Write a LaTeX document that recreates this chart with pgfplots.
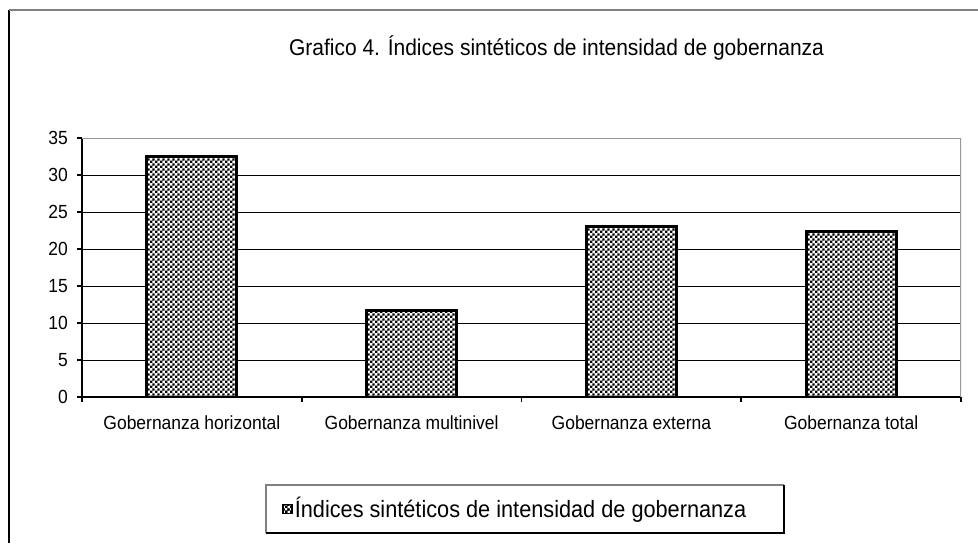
\documentclass[border=0pt]{standalone}
\usepackage{fontspec}
\setmainfont{Liberation Sans}[FakeStretch=0.92]
\usepackage{pgfplots}
\pgfplotsset{compat=1.18}
\usetikzlibrary{patterns.meta}
\pgfdeclarepattern{
  name=finechecker,
  type=uncolored,
  bottom left={\pgfpoint{0pt}{0pt}},
  top right={\pgfpoint{2.6pt}{2.6pt}},
  tile size={\pgfpoint{2.6pt}{2.6pt}},
  code={
    \pgfpathrectangle{\pgfpoint{0pt}{0pt}}{\pgfpoint{1.3pt}{1.3pt}}
    \pgfpathrectangle{\pgfpoint{1.3pt}{1.3pt}}{\pgfpoint{1.3pt}{1.3pt}}
    \pgfusepath{fill}
  }
}
\begin{document}
\begin{tikzpicture}
\useasboundingbox (0,0) rectangle (489pt,271.5pt);
\fill[white] (0,0) rectangle (489pt,271.5pt);
\draw[black, line width=1pt] (4.5pt,0) -- (4.5pt,266.5pt);
\draw[gray, line width=1pt] (4.5pt,266.5pt) -- (489pt,266.5pt);
\node[font=\fontsize{11.4}{13}\selectfont] at (278.25pt,247.5pt) {Grafico 4. Índices sintéticos de intensidad de gobernanza};
% legend box
\draw[gray, line width=0.7pt] (133pt,5pt) -- (133pt,29pt) -- (392pt,29pt);
\draw[black, line width=0.7pt] (392pt,29pt) -- (392pt,5pt) -- (133pt,5pt);
\begin{axis}[
  at={(41pt,73pt)}, anchor=south west,
  scale only axis, width=439.5pt, height=129.5pt,
  xmin=-0.5, xmax=3.5, ymin=0, ymax=35,
  ytick={0,5,...,35},
  xtick={0,1,2,3},
  xticklabels={Gobernanza horizontal, Gobernanza multinivel, Gobernanza externa, Gobernanza total},
  minor xtick={-0.5,0.5,1.5,2.5,3.5},
  axis x line*=bottom, axis y line*=left,
  axis line style={black, line width=1pt, -},
  ymajorgrids, grid style={black, line width=0.5pt},
  tick align=outside,
  major tick length=2.5pt, minor tick length=2.5pt,
  major x tick style={draw=none},
  minor x tick style={draw=black, line width=0.8pt},
  ytick style={black, line width=0.8pt},
  tick label style={font=\fontsize{9.5}{11}\selectfont},
  /pgf/number format/assume math mode=true,
  xticklabel style={yshift=-3.5pt},
  yticklabel style={xshift=-1pt},
  legend style={at={(0.493,-0.4324)}, anchor=center, draw=none, fill=none,
    font=\fontsize{11.8}{13}\selectfont, nodes={inner xsep=1pt}},
  legend image code/.code={
    \draw[fill=white, postaction={pattern=finechecker}, draw=black, line width=0.8pt] (0pt,-2.2pt) rectangle (4.4pt,2.2pt);
  },
]
\addplot[ybar, bar width=45pt, draw=black, line width=1.5pt, fill=white,
  postaction={pattern=finechecker}]
  coordinates {(0,32.5) (1,11.7) (2,23.0) (3,22.3)};
\addlegendentry{Índices sintéticos de intensidad de gobernanza}
\draw[gray!80, line width=1pt] (rel axis cs:0,1) -- (rel axis cs:1,1) -- (rel axis cs:1,0);
\end{axis}
\end{tikzpicture}
\end{document}
